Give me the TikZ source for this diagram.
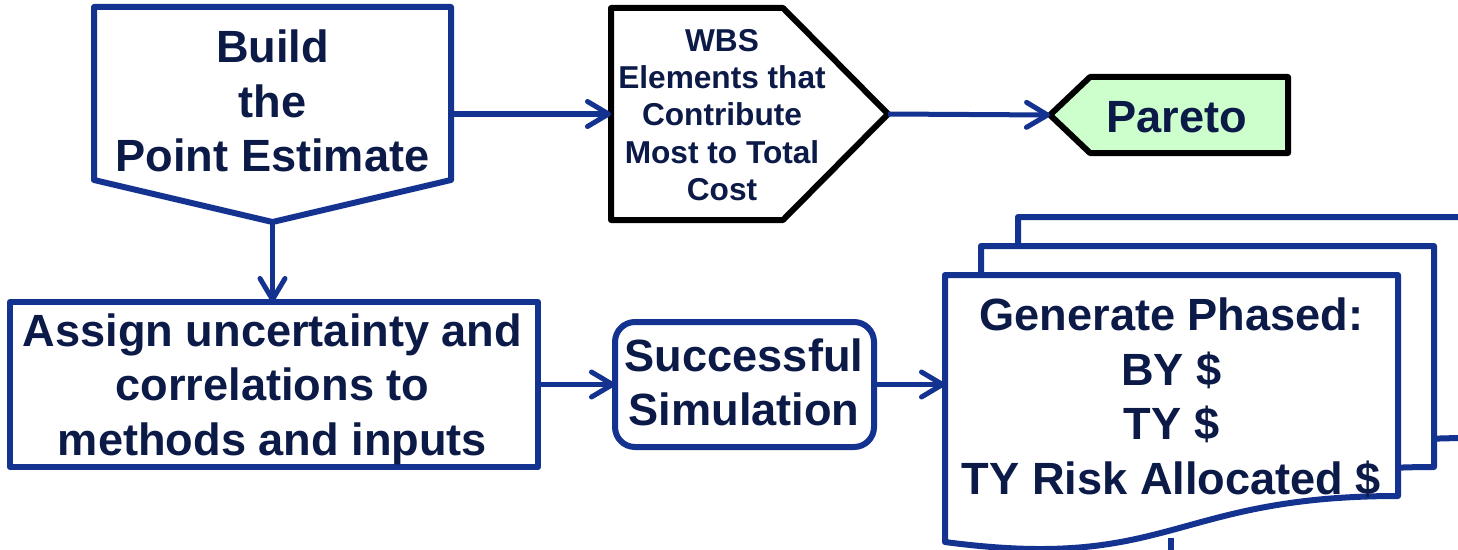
\documentclass[tikz,border=0pt]{standalone}
\usepackage{fontspec}
\setmainfont{Liberation Sans}
\usetikzlibrary{arrows.meta}

\definecolor{color1}{RGB}{255,255,255}
\definecolor{color2}{RGB}{204,255,204}
\definecolor{color3}{RGB}{20,50,143}
\definecolor{color4}{RGB}{12,26,72}
\definecolor{color5}{RGB}{0,0,0}

\tikzset{
	outlinebox/.style={inner sep=0pt, outer sep=0pt},
	blueline/.style={draw=color3, line width=0.12cm, line join=round},
	blackline/.style={draw=color5, line width=0.12cm, line join=round},
	flowarrow/.style={draw=color3, line width=0.1cm, -{Straight Barb[length=0.42cm, width=0.5cm, round]}},
	bigtext/.style={text=color4, align=center, font=\bfseries\fontsize{25.7}{31}\selectfont},
	smalltext/.style={text=color4, align=center, font=\bfseries\fontsize{18}{21.3}\selectfont}
}

\begin{document}
\begin{tikzpicture}
	\useasboundingbox[fill=color1] (0cm,0cm) rectangle (29.16cm,-11cm);
	% build the point estimate
	\node[outlinebox, minimum width=7.14cm, minimum height=3.46cm] (n1) at (5.45cm,-1.87cm) {};
	\coordinate (n1tip) at (5.45cm,-4.44cm);
	\draw[blueline, fill=color1] (n1.north west) -- (n1.north east) -- (n1.south east) -- (n1tip) -- (n1.south west) -- cycle;
	\node[bigtext] at (5.45cm,-2.02cm) {Build\\the\\Point Estimate};
	% wbs elements
	\node[outlinebox, minimum width=3.44cm, minimum height=4.24cm] (n2) at (13.94cm,-2.28cm) {};
	\coordinate (n2tip) at (17.76cm,-2.28cm);
	\draw[blackline, fill=color1] (n2.north west) -- (n2.north east) -- (n2tip) -- (n2.south east) -- (n2.south west) -- cycle;
	\node[smalltext] at (14.44cm,-2.30cm) {WBS\\Elements that\\Contribute\\Most to Total\\Cost};
	% pareto
	\node[outlinebox, minimum width=3.96cm, minimum height=1.52cm] (n3) at (23.78cm,-2.30cm) {};
	\coordinate (n3tip) at (21.0cm,-2.30cm);
	\draw[blackline, fill=color2] (n3tip) -- (n3.north west) -- (n3.north east) -- (n3.south east) -- (n3.south west) -- cycle;
	\node[bigtext] at (23.54cm,-2.34cm) {Pareto};
	% assign uncertainty
	\node[outlinebox, blueline, fill=color1, minimum width=10.56cm, minimum height=3.30cm] (n4) at (5.48cm,-7.69cm) {};
	\node[bigtext] at (5.45cm,-7.78cm) {Assign uncertainty and\\correlations to\\methods and inputs};
	% successful simulation
	\node[outlinebox, blueline, fill=color1, rounded corners=0.4cm, minimum width=5.18cm, minimum height=2.5cm] (n5) at (14.89cm,-7.69cm) {};
	\node[bigtext] at (14.88cm,-7.65cm) {Successful\\Simulation};
	% stack of documents
	\foreach \dx/\dy in {1.46/1.16, 0.72/0.58, 0/0} {
		\draw[blueline, fill=color1, shift={(\dx cm,\dy cm)}] (18.9cm,-5.5cm) -- (27.96cm,-5.5cm) -- (27.96cm,-9.92cm) .. controls (23.42cm,-9.92cm) and (23.42cm,-11.44cm) .. (18.9cm,-10.84cm) -- cycle;
	}
	\node[outlinebox, minimum width=9.06cm, minimum height=4.42cm] (n6) at (23.43cm,-7.71cm) {};
	\node[bigtext] at (23.43cm,-7.96cm) {Generate Phased:\\BY \$\\TY \$\\TY Risk Allocated \$};
	% arrows
	\draw[flowarrow] (n1.east |- n2.west) -- (n2.west);
	\draw[flowarrow] (n2tip) -- (n3tip);
	\draw[flowarrow] (n1tip) -- (n1tip |- n4.north);
	\draw[flowarrow] (n4.east) -- (n5.west);
	\draw[flowarrow] (n5.east) -- (n5.east -| n6.west);
	\coordinate (c1) at (23.42cm,-10.76cm);
	\coordinate (c2) at (23.42cm,-11.1cm);
	\draw[blueline] (c1) -- (c2);
\end{tikzpicture}
\end{document}
